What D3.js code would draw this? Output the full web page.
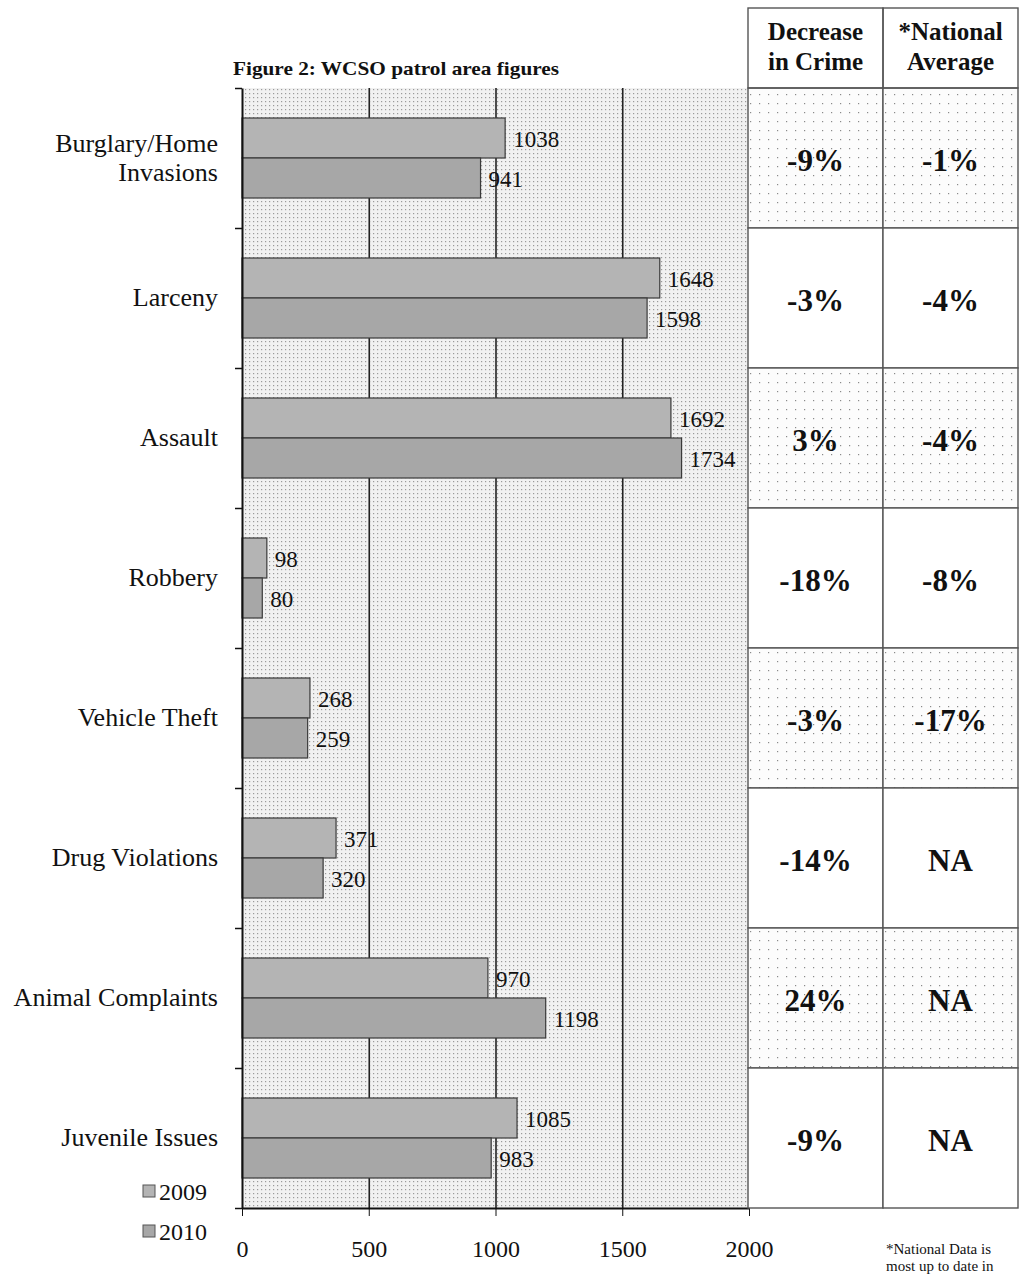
<!DOCTYPE html>
<html>
<head>
<meta charset="utf-8">
<script src="https://cdn.jsdelivr.net/npm/d3@7"></script>
<style>
  body { margin: 0; background: #fff; }
  svg { display: block; font-family: "Liberation Serif", "DejaVu Serif", serif; }
  .axis path, .axis line { stroke: #111; }
  .grid line { stroke: #222; stroke-width: 1.6; }
  .grid path { display: none; }
</style>
</head>
<body>
<div id="chart"></div>
<script>
// data
const categories = [
  "Burglary/Home\nInvasions",
  "Larceny",
  "Assault",
  "Robbery",
  "Vehicle Theft",
  "Drug Violations",
  "Animal Complaints",
  "Juvenile Issues"
];
const years = ["2009", "2010"];
const values2009 = [1038, 1648, 1692, 98, 268, 371, 970, 1085];
const values2010 = [941, 1598, 1734, 80, 259, 320, 1198, 983];
const decreaseInCrime = ["-9%", "-3%", "3%", "-18%", "-3%", "-14%", "24%", "-9%"];
const nationalAverage = ["-1%", "-4%", "-4%", "-8%", "-17%", "NA", "NA", "NA"];
const xTicks = [0, 500, 1000, 1500, 2000];
const tableHeaders = [["Decrease", "in Crime"], ["*National", "Average"]];

const width = 1021, height = 1274;
const plot = { left: 242, right: 749, top: 88, bottom: 1208 };

const svg = d3.select("#chart").append("svg")
  .attr("width", width)
  .attr("height", height);

const defs = svg.append("defs");
// halftone-ish dot patterns to mimic the scan
const bg = defs.append("pattern").attr("id", "bgDots")
  .attr("width", 4).attr("height", 4).attr("patternUnits", "userSpaceOnUse");
bg.append("rect").attr("width", 4).attr("height", 4).attr("fill", "#f1f1f1");
bg.append("rect").attr("x", 1).attr("y", 1).attr("width", 1.2).attr("height", 1.2).attr("fill", "#9a9a9a");

const cellDots = defs.append("pattern").attr("id", "cellDots")
  .attr("width", 9).attr("height", 9).attr("patternUnits", "userSpaceOnUse");
cellDots.append("rect").attr("width", 9).attr("height", 9).attr("fill", "#fcfcfc");
cellDots.append("rect").attr("x", 3).attr("y", 4).attr("width", 1.2).attr("height", 1.2).attr("fill", "#8a8a8a");

const barColor = { "2009": "#b4b4b4", "2010": "#a7a7a7" };

const x = d3.scaleLinear().domain([0, 2000]).range([plot.left, plot.right]);
const y = d3.scaleBand().domain(categories).range([plot.top, plot.bottom]);
const yInner = d3.scaleBand().domain(years).range([0, y.bandwidth()])
  .paddingInner(0).paddingOuter(0.75);
const yEdges = d3.scaleLinear().domain([0, categories.length]).range([plot.top, plot.bottom]);

// plot background
svg.append("rect")
  .attr("x", plot.left).attr("y", plot.top)
  .attr("width", plot.right - plot.left).attr("height", plot.bottom - plot.top)
  .attr("fill", "url(#bgDots)");

// vertical gridlines
svg.append("g").attr("class", "grid")
  .attr("transform", `translate(0, ${plot.bottom})`)
  .call(d3.axisBottom(x).tickValues([500, 1000, 1500]).tickFormat("").tickSize(-(plot.bottom - plot.top)));

// bars
const rows = categories.map((c, i) => ({ cat: c, values: [values2009[i], values2010[i]] }));
const groups = svg.append("g").selectAll("g").data(rows).join("g")
  .attr("transform", d => `translate(0, ${y(d.cat)})`);

groups.selectAll("rect").data(d => d.values.map((v, j) => ({ year: years[j], v })))
  .join("rect")
  .attr("x", x(0))
  .attr("y", d => yInner(d.year))
  .attr("width", d => x(d.v) - x(0))
  .attr("height", yInner.bandwidth())
  .attr("fill", d => barColor[d.year])
  .attr("stroke", "#3a3a3a")
  .attr("stroke-width", 1.2);

groups.selectAll("text").data(d => d.values.map((v, j) => ({ year: years[j], v })))
  .join("text")
  .attr("x", d => x(d.v) + 8)
  .attr("y", d => yInner(d.year) + yInner.bandwidth() / 2 + 4)
  .attr("dominant-baseline", "middle")
  .attr("font-size", 23)
  .attr("fill", "#111")
  .text(d => d.v);

// axes
svg.append("g").attr("class", "axis")
  .attr("transform", `translate(${plot.left}, 0)`)
  .call(d3.axisLeft(yEdges).ticks(categories.length).tickFormat("").tickSize(7).tickSizeOuter(0))
  .selectAll("line").attr("stroke-width", 1.5);

const xAxis = svg.append("g").attr("class", "axis")
  .attr("transform", `translate(0, ${plot.bottom})`)
  .call(d3.axisBottom(x).tickValues(xTicks).tickFormat(d3.format("d"))
    .tickSize(8).tickSizeOuter(0).tickPadding(24));
xAxis.select(".domain").attr("stroke-width", 2);
xAxis.selectAll("text")
  .attr("font-size", 24)
  .attr("fill", "#111")
  .attr("font-family", "Liberation Serif, serif");

svg.select(".axis .domain").attr("stroke-width", 2);

// category labels
const catLabels = svg.append("g").selectAll("text").data(categories).join("text")
  .attr("text-anchor", "end")
  .attr("font-size", 26)
  .attr("fill", "#111")
  .attr("x", 218)
  .attr("y", d => y(d) + y.bandwidth() / 2);
catLabels.each(function(d) {
  const lines = d.split("\n");
  const lh = 29;
  d3.select(this).selectAll("tspan").data(lines).join("tspan")
    .attr("x", 218)
    .attr("dy", (l, i) => i === 0 ? (-(lines.length - 1) * lh / 2 + 8) : lh)
    .text(l => l);
});

// title
svg.append("text")
  .attr("x", 233).attr("y", 75)
  .attr("font-size", 19)
  .attr("font-weight", "bold")
  .attr("fill", "#111")
  .attr("textLength", 326)
  .attr("lengthAdjust", "spacingAndGlyphs")
  .text("Figure 2: WCSO patrol area figures");

// legend
const legend = svg.append("g").selectAll("g").data(years).join("g")
  .attr("transform", (d, i) => `translate(143, ${1192 + i * 40})`);
legend.append("rect")
  .attr("x", 0).attr("y", -7).attr("width", 12).attr("height", 12)
  .attr("fill", d => barColor[d]).attr("stroke", "#555");
legend.append("text")
  .attr("x", 16).attr("y", 8)
  .attr("font-size", 24)
  .attr("fill", "#111")
  .text(d => d);

// table on the right
const col = d3.scaleBand().domain([0, 1]).range([748, 1018]);
const table = svg.append("g");

table.append("rect")
  .attr("x", 748).attr("y", 8).attr("width", 270).attr("height", plot.top - 8)
  .attr("fill", "#fff");

categories.forEach((c, i) => {
  [decreaseInCrime[i], nationalAverage[i]].forEach((v, j) => {
    table.append("rect")
      .attr("x", col(j)).attr("y", y(c))
      .attr("width", col.bandwidth()).attr("height", y.bandwidth())
      .attr("fill", i % 2 === 0 ? "url(#cellDots)" : "#fff")
      .attr("stroke", "#555").attr("stroke-width", 1.4);
    table.append("text")
      .attr("x", col(j) + col.bandwidth() / 2)
      .attr("y", y(c) + y.bandwidth() / 2 + 13)
      .attr("text-anchor", "middle")
      .attr("font-size", 31)
      .attr("font-weight", "bold")
      .attr("fill", "#111")
      .text(v);
  });
});

tableHeaders.forEach((lines, j) => {
  table.append("rect")
    .attr("x", col(j)).attr("y", 8)
    .attr("width", col.bandwidth()).attr("height", plot.top - 8)
    .attr("fill", "none").attr("stroke", "#555").attr("stroke-width", 1.4);
  table.append("text")
    .attr("text-anchor", "middle")
    .attr("font-size", 25)
    .attr("font-weight", "bold")
    .attr("fill", "#111")
    .selectAll("tspan").data(lines).join("tspan")
    .attr("x", col(j) + col.bandwidth() / 2)
    .attr("y", (l, i) => 40 + i * 30)
    .text(l => l);
});

// footnote
svg.append("text")
  .attr("x", 886).attr("y", 1254)
  .attr("font-size", 15)
  .attr("fill", "#111")
  .selectAll("tspan").data(["*National Data is", "most up to date in"]).join("tspan")
  .attr("x", 886)
  .attr("dy", (l, i) => i === 0 ? 0 : 17)
  .text(l => l);
</script>
</body>
</html>
